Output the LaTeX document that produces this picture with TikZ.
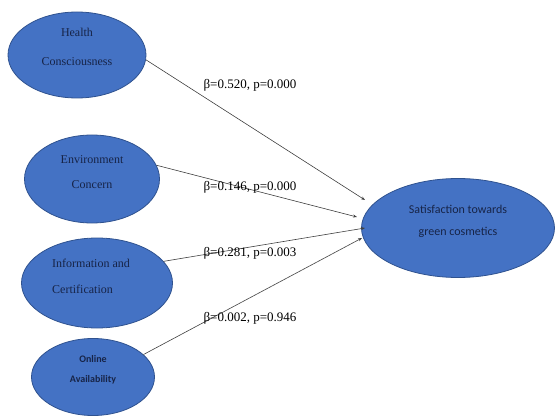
\documentclass[tikz,border=0pt]{standalone}
\usepackage{fontspec}
\setmainfont{Liberation Serif}
\newfontfamily\calfont{Carlito}
\usetikzlibrary{arrows.meta,shapes.geometric}
\definecolor{ovalblue}{HTML}{4472C4}
\definecolor{ovalline}{HTML}{2F528F}
\definecolor{ovaltext}{HTML}{172447}
\begin{document}
\begin{tikzpicture}[x=1pt,y=1pt]
    % node style definition
    \tikzstyle{oval} = [
    	draw=ovalline, fill=ovalblue, ellipse, line width=0.8pt,
    	inner sep=0pt ];
    \tikzstyle{ovaltxt} = [draw=none, fill=none, inner sep=0pt,
    	text=ovaltext, font=\fontsize{12}{12}\selectfont];
    \tikzstyle{coef} = [draw=none, fill=none, inner sep=0pt,
    	font=\fontsize{13}{13}\selectfont];
    \tikzstyle{link} = [draw=black!75, line width=0.6pt, -{Stealth[length=4pt,width=3pt]}];
    \useasboundingbox (0,0) rectangle (555,416);
    % predictors
    \node[oval, minimum width=138, minimum height=86] (hc) at (77,361) {};
    \node[oval, minimum width=135, minimum height=88] (ec) at (92,237) {};
    \node[oval, minimum width=151, minimum height=90] (ic) at (97,133) {};
    \node[oval, minimum width=123, minimum height=77] (oa) at (93,39) {};
    % outcome
    \node[oval, minimum width=193, minimum height=99] (sat) at (458,188) {};
    % texts in the ovals
    \node[ovaltxt, align=center] (hct) at ([yshift=8]hc) {Health\\[17pt]Consciousness};
    \node[ovaltxt, align=center] (ect) at ([yshift=6.5]ec) {Environment\\[13pt]Concern};
    \node[ovaltxt, align=left, anchor=west] (ict) at (52,140) {Information and\\[14pt]Certification};
    \node[ovaltxt, align=center, font=\calfont\bfseries\fontsize{10}{10}\selectfont]
    	(oat) at ([yshift=7]oa) {Online\\[10pt]Availability};
    \node[ovaltxt, align=center, font=\calfont\fontsize{12}{12}\selectfont]
    	(satt) at ([yshift=7]sat) {Satisfaction towards\\[10pt]green cosmetics};
    % arrow ends beside the outcome
    \coordinate (t1) at (365,216);
    \coordinate (t2) at (357,199);
    \coordinate (t3) at (365,188);
    \coordinate (t4) at (362,178);
    \draw[link] (hc.-4) -- (t1);
    \draw[link] (ec.12) -- (t2);
    \draw[link] (ic.18) -- (t3);
    \draw[link] (oa.24) -- (t4);
    % path coefficients
    \node[coef] (b1) at (250,331) {β=0.520, p=0.000};
    \node[coef] (b2) at (250,229) {β=0.146, p=0.000};
    \node[coef] (b3) at (250,163) {β=0.281, p=0.003};
    \node[coef] (b4) at (250,98) {β=0.002, p=0.946};
\end{tikzpicture}
\end{document}
